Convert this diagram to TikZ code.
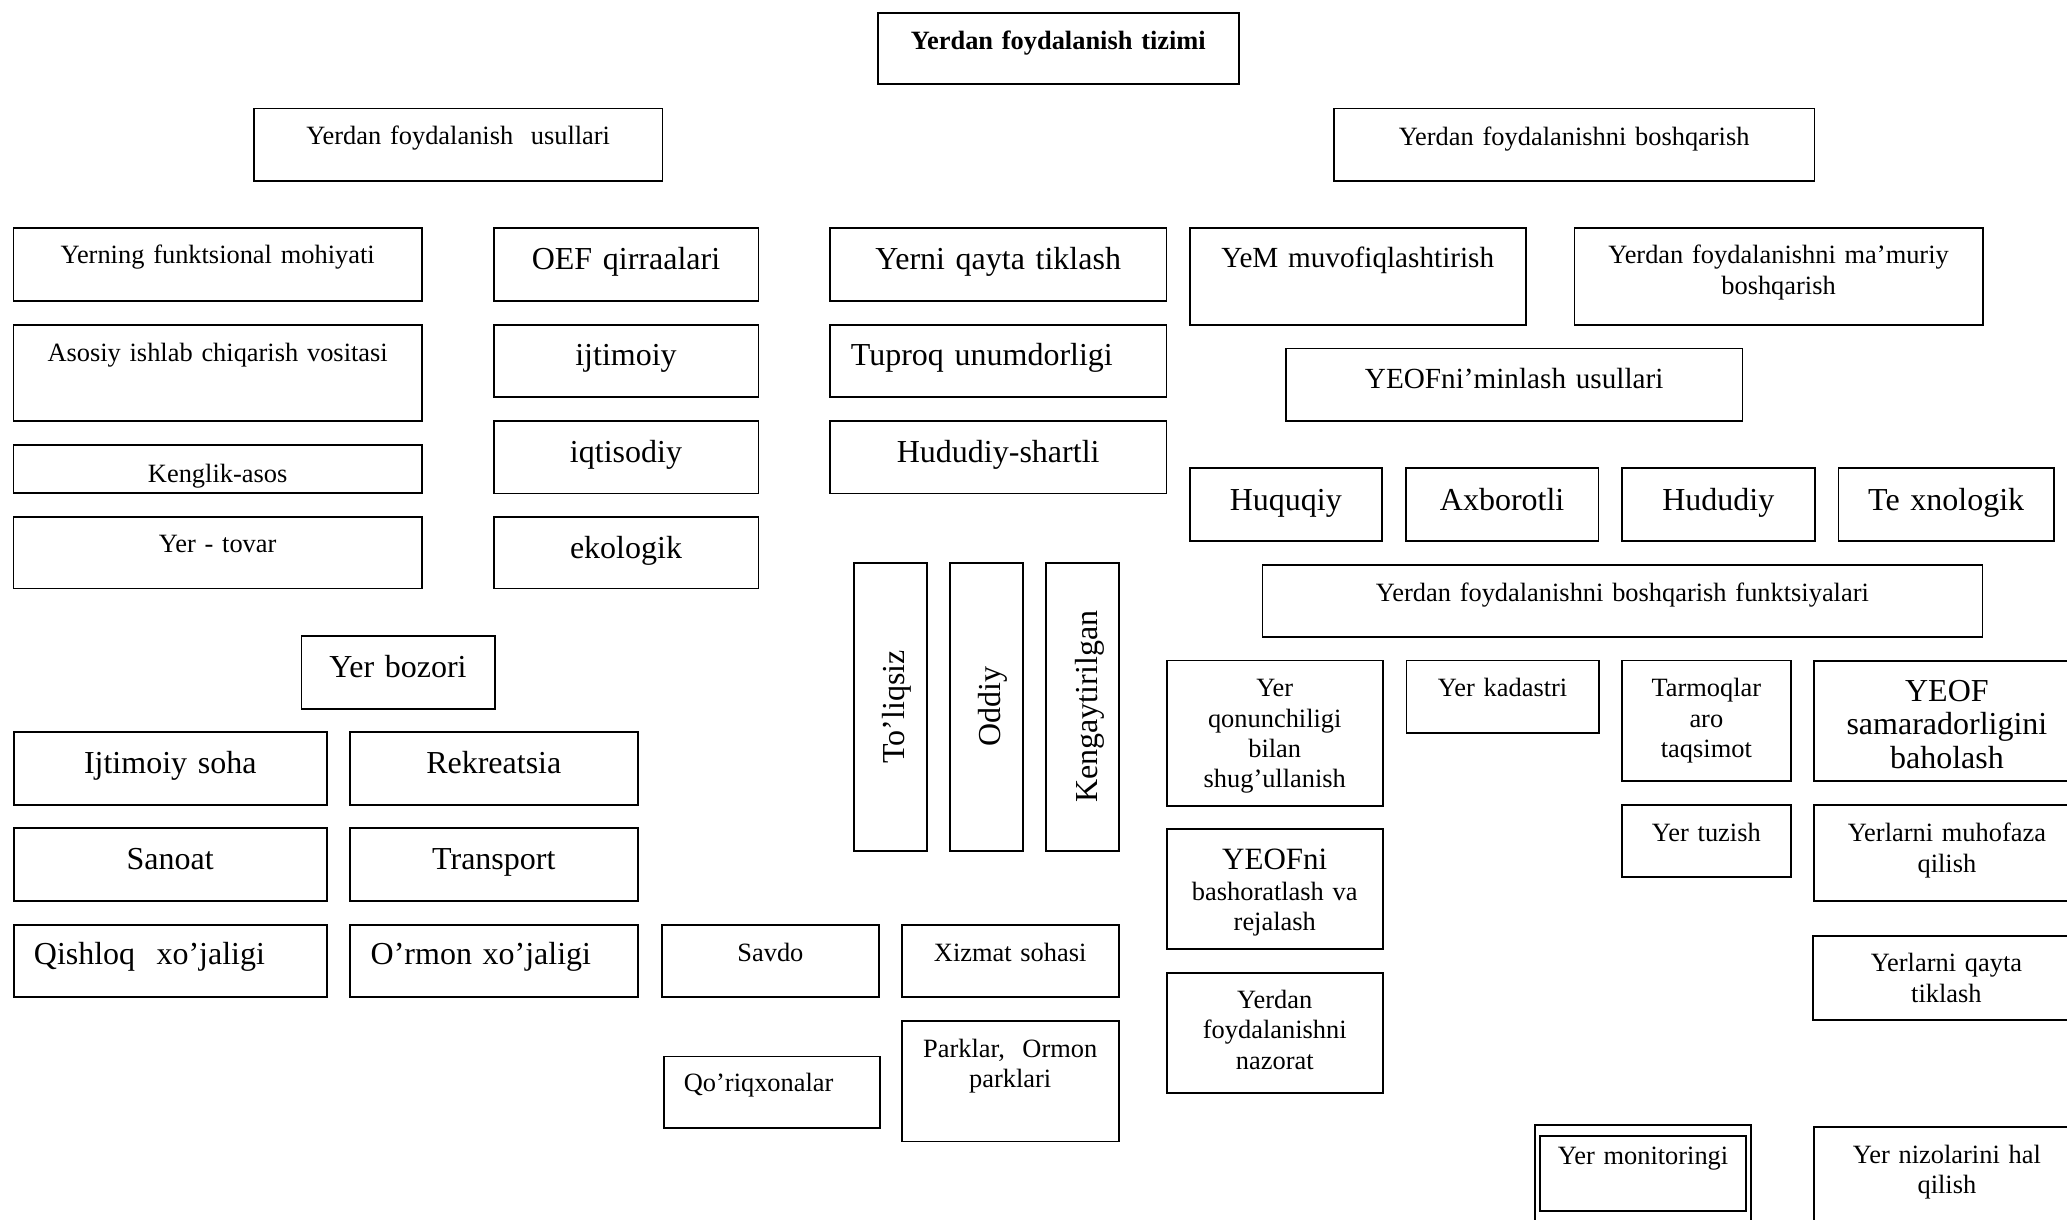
\documentclass[tikz,border=0pt]{standalone}
\usepackage{fontspec}
\setmainfont{Liberation Serif}

\begin{document}
\begin{tikzpicture}[x=1pt, y=-1pt,
    cellbox/.style n args={3}{draw, line width=1.8pt, inner sep=0pt, anchor=north west, align=center, text width=#1pt, text height=#3pt, text depth=#2pt-#3pt},
    smalltxt/.style={font=\fontsize{26.4}{30.3}\selectfont},
    midtxt/.style={font=\fontsize{29.2}{32}\selectfont},
    bigtxt/.style={font=\fontsize{32}{33.4}\selectfont}]
    \useasboundingbox (0,0) rectangle (2067,1219);

    % top
    \node (YFT) [cellbox={361}{71}{36.4}, smalltxt] at (877,12) {\textbf{Yerdan foydalanish tizimi}};;
    \node (YFU) [cellbox={408.5}{72.5}{36.1}, smalltxt] at (253,107.5) {Yerdan foydalanish~ usullari};;
    \node (YFB) [cellbox={480.5}{72.5}{36.9}, smalltxt] at (1333,107.5) {Yerdan foydalanishni boshqarish};;

    % usullari LEFT
    \node (YFM) [cellbox={408.5}{73}{36}, smalltxt] at (12.5,227) {Yerning funktsional mohiyati};;
    \node (AIV) [cellbox={408.5}{96.3}{36.9}, smalltxt] at (12.5,323.7) {Asosiy ishlab chiqarish vositasi};;
    \node (KA) [cellbox={408.5}{47.7}{37.5}, smalltxt] at (12.5,444) {Kenglik-asos};;
    \node (YT) [cellbox={408.5}{71.5}{36}, smalltxt] at (12.5,516) {Yer - tovar};;

    \node (OEF) [cellbox={264.8}{73}{42}, bigtxt] at (492.7,227) {OEF qirraalari};;
    \node (IJT) [cellbox={264.8}{72.3}{41}, bigtxt] at (492.7,323.7) {ijtimoiy};;
    \node (IQT) [cellbox={264.8}{72.7}{41.5}, bigtxt] at (492.7,419.8) {iqtisodiy};;
    \node (EKO) [cellbox={264.8}{71.5}{41.7}, bigtxt] at (492.7,516) {ekologik};;

    \node (YQT) [cellbox={336.6}{73}{42}, bigtxt] at (829,227) {Yerni qayta tiklash};;
    \node (TU) [cellbox={294.6}{72.3}{41}, bigtxt, align=left, inner xsep=21pt] at (829,323.7) {Tuproq unumdorligi};;
    \node (HS) [cellbox={336.6}{72.7}{41.5}, bigtxt] at (829,419.8) {Hududiy-shartli};;

    % vertical
    \node (TLQ) [cellbox={288.2}{72.7}{50.9}, bigtxt, rotate=90] at (853,851.7) {To’liqsiz};;
    \node (ODD) [cellbox={288.2}{72.7}{50.9}, bigtxt, rotate=90] at (949,851.7) {Oddiy};;
    \node (KNG) [cellbox={288.2}{72.7}{51.5}, bigtxt, rotate=90] at (1045,851.7) {Kengaytirilgan};;

    % Yer bozori
    \node (YB) [cellbox={193.2}{72.6}{41.4}, bigtxt] at (300.5,635.3) {Yer bozori};;
    \node (IS) [cellbox={312.7}{73}{41}, bigtxt] at (13,731.3) {Ijtimoiy soha};;
    \node (RK) [cellbox={288.2}{73}{41}, bigtxt] at (348.8,731.3) {Rekreatsia};;
    \node (SN) [cellbox={312.7}{73}{41.7}, bigtxt] at (13,827.3) {Sanoat};;
    \node (TR) [cellbox={288.2}{73}{41.7}, bigtxt] at (348.8,827.3) {Transport};;
    \node (QX) [cellbox={272.7}{72.6}{40}, bigtxt, align=left, inner xsep=20pt] at (13,923.7) {Qishloq~ xo’jaligi};;
    \node (OX) [cellbox={246.2}{72.6}{40}, bigtxt, align=left, inner xsep=21pt] at (348.8,923.7) {O’rmon xo’jaligi};;
    \node (SV) [cellbox={217}{72.6}{36.7}, smalltxt] at (661,923.7) {Savdo};;
    \node (XS) [cellbox={217}{72.6}{36.7}, smalltxt] at (900.8,923.7) {Xizmat sohasi};;
    \node (QQ) [cellbox={176}{71.6}{35.1}, smalltxt, align=left, inner xsep=20pt] at (663,1055.6) {Qo’riqxonalar};;
    \node (PO) [cellbox={217}{120.8}{36.9}, smalltxt] at (900.8,1019.7) {Parklar,~ Ormon\\ parklari};;

    % boshqarish RIGHT
    \node (YMM) [cellbox={336.3}{96.7}{39.5}, midtxt] at (1188.7,227) {YeM muvofiqlashtirish};;
    \node (YMB) [cellbox={408.1}{96.7}{36}, smalltxt] at (1573.6,227) {Yerdan foydalanishni ma’muriy\\ boshqarish};;
    \node (YNU) [cellbox={456.6}{72.5}{39.6}, midtxt] at (1285,347.5) {YEOFni’minlash usullari};;
    \node (HQ) [cellbox={192.3}{73}{43}, bigtxt] at (1188.7,467) {Huquqiy};;
    \node (AX) [cellbox={192.5}{73}{43}, bigtxt] at (1405,467) {Axborotli};;
    \node (HD) [cellbox={192.7}{73}{43}, bigtxt] at (1621,467) {Hududiy};;
    \node (TX) [cellbox={215.5}{73}{43}, bigtxt] at (1837.5,467) {Te xnologik};;

    % funktsiyalari
    \node (FUN) [cellbox={720}{72.5}{36.4}, smalltxt] at (1261.5,563.7) {Yerdan foydalanishni boshqarish funktsiyalari};;
    \node (QON) [cellbox={215.7}{145.1}{36.4}, smalltxt] at (1166,659.6) {Yer\\ qonunchiligi\\ bilan\\ shug’ullanish};;
    \node (BSH) [cellbox={215.7}{119.8}{40.8}, smalltxt] at (1166,828.2) {{\fontsize{31}{33.4}\selectfont YEOFni}\\ bashoratlash va\\ rejalash};;
    \node (NZR) [cellbox={215.7}{119.9}{35.1}, smalltxt] at (1166,972.4) {Yerdan\\ foydalanishni\\ nazorat};;
    \node (KAD) [cellbox={192.4}{72.6}{36.4}, smalltxt] at (1405.5,659.6) {Yer kadastri};;
    \node (TAQ) [cellbox={168.5}{120.8}{36.4}, smalltxt] at (1621.2,659.6) {Tarmoqlar\\ aro\\ taqsimot};;
    \node (YTZ) [cellbox={168.5}{71.7}{36.7}, smalltxt] at (1621.2,804.3) {Yer tuzish};;
    \node (SAM) [cellbox={266}{120.4}{40.5}, bigtxt] at (1813,660) {YEOF\\ samaradorligini\\ baholash};;
    \node (MUH) [cellbox={266}{95.7}{36.7}, smalltxt] at (1813,804.3) {Yerlarni muhofaza\\ qilish};;
    \node (YQR) [cellbox={267}{84}{35.7}, smalltxt] at (1812,935.3) {Yerlarni qayta\\ tiklash};;
    \node (MONF) [cellbox={216.3}{110}{50}] at (1534,1123.8) {};;
    \node (MON) [cellbox={205.7}{74.6}{28.6}, smalltxt] at (1539.3,1135.4) {Yer monitoringi};;
    \node (NIZ) [cellbox={266}{115}{36}, smalltxt] at (1813,1126.4) {Yer nizolarini hal\\ qilish};;
\end{tikzpicture}
\end{document}
